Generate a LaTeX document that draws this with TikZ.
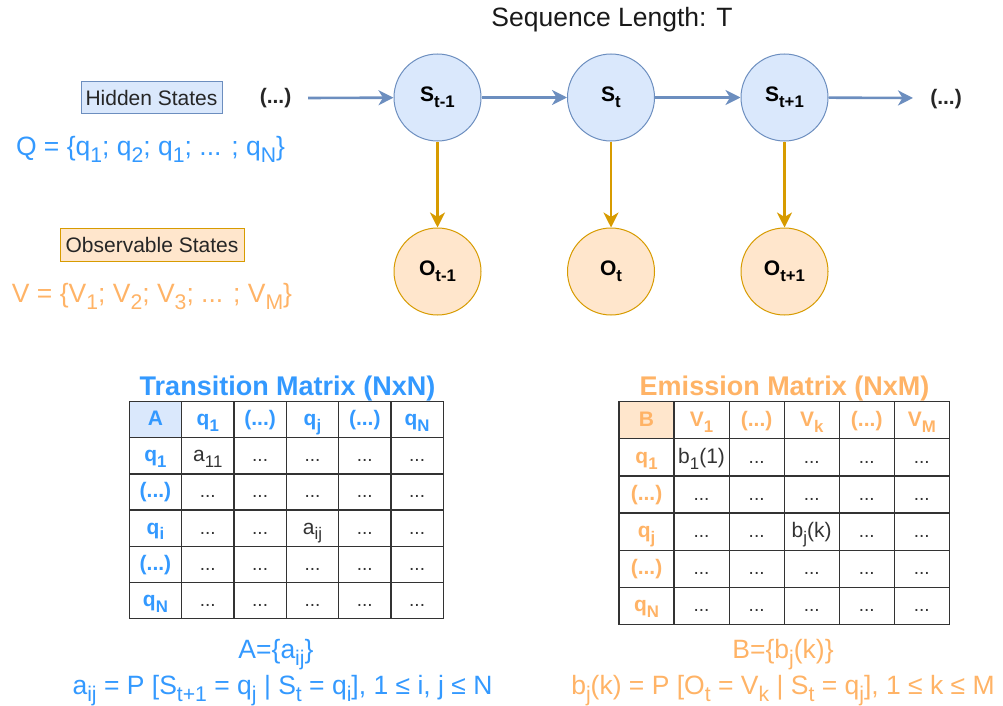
\documentclass[tikz,border=0pt]{standalone}
\usepackage{fontspec}
\setmainfont{Liberation Sans}
\usepackage{graphicx}
\usetikzlibrary{arrows.meta}
\definecolor{hblue}{HTML}{3399FF}
\definecolor{horange}{HTML}{FFB366}
\definecolor{sfill}{HTML}{DAE8FC}
\definecolor{sdraw}{HTML}{6C8EBF}
\definecolor{ofill}{HTML}{FFE6CC}
\definecolor{odraw}{HTML}{D79B00}
\definecolor{gridc}{HTML}{333333}
\newcommand\sbx[1]{\raisebox{-0.28em}{\scalebox{0.8}{#1}}}
\newcommand\fs[1]{\fontsize{#1}{#1}\selectfont}
\newcommand\Acell[4]{\node[cA,#3] (A-#1-#2) at ({129.3+52.33*(#2+0.5)},{401.7+36.1*(#1+0.5)}) {#4};}
\newcommand\Bcell[4]{\node[cB,#3] (B-#1-#2) at ({619+55.05*(#2+0.5)},{401.7+37.1*(#1+0.5)}) {#4};}
\begin{document}
\begin{tikzpicture}[x=1pt,y=-1pt,
  hstate/.style={circle,draw=sdraw,fill=sfill,line width=1pt,minimum size=87pt,inner sep=0pt,font=\fs{21}\bfseries,text=black},
  ostate/.style={circle,draw=odraw,fill=ofill,line width=1pt,minimum size=87pt,inner sep=0pt,font=\fs{21}\bfseries,text=black},
  harrow/.style={draw=sdraw,line width=2.6pt,-{Stealth[length=15pt,width=15pt,inset=4.5pt]}},
  oarrow/.style={draw=odraw,line width=2.6pt,-{Stealth[length=15pt,width=15pt,inset=4.5pt]}},
  tagbox/.style={line width=1pt,inner sep=0pt,font=\fs{21},text=black!85},
  cellbase/.style={draw=gridc,line width=1.2pt,inner sep=0pt,text height=15pt,text depth=3pt},
  cA/.style={cellbase,minimum width=52.33pt,minimum height=36.1pt},
  cB/.style={cellbase,minimum width=55.05pt,minimum height=37.1pt},
  hdA/.style={text=hblue,font=\fs{21}\bfseries},
  hdB/.style={text=horange,font=\fs{21}\bfseries},
  dotc/.style={text=gridc,font=\fs{19}},
  valc/.style={text=gridc,font=\fs{21}},
  ttl/.style={inner sep=0pt,anchor=base,font=\fs{27}\bfseries},
  frm/.style={inner sep=0pt,anchor=base,font=\fs{26.5}}
]
\useasboundingbox (0,0) rectangle (1003,706);

% title
\node[inner sep=0pt,anchor=base,font=\fs{26.5},text=black!90] (title) at (612,27) {Sequence Length: T};

% legend
\node[tagbox,draw=sdraw,fill=sfill,minimum width=141pt,minimum height=32pt] (hid) at (151.5,98) {Hidden States};
\node[inner sep=0pt,anchor=base,font=\fs{26.5},text=hblue] (Q) at (150.5,155) {Q = \{q\sbx{1}; q\sbx{2}; q\sbx{1}; ... ; q\sbx{N}\}};
\node[tagbox,draw=odraw,fill=ofill,minimum width=184pt,minimum height=33pt] (obs) at (152,244.5) {Observable States};
\node[inner sep=0pt,anchor=base,font=\fs{26.5},text=horange] (V) at (152,302) {V = \{V\sbx{1}; V\sbx{2}; V\sbx{3}; ... ; V\sbx{M}\}};

% chain
\node[inner sep=0pt,font=\fs{21}\bfseries,text=black!85] (L) at (275.5,98) {(...)};
\coordinate (cin) at (308,98);
\node[hstate] (S1) at (437.5,97.5) {S\sbx{t-1}};
\node[hstate] (S2) at (611,97.5) {S\sbx{t}};
\node[hstate] (S3) at (784.5,97.5) {S\sbx{t+1}};
\coordinate (cout) at (913,98);
\node[inner sep=0pt,font=\fs{21}\bfseries,text=black!85] (R) at (946,99) {(...)};
\node[ostate] (O1) at (437.5,271.5) {O\sbx{t-1}};
\node[ostate] (O2) at (611,271.5) {O\sbx{t}};
\node[ostate] (O3) at (784.5,271.5) {O\sbx{t+1}};

\draw[harrow] (cin) -- (S1);
\draw[harrow] (S1) -- (S2);
\draw[harrow] (S2) -- (S3);
\draw[harrow] (S3) -- (cout);
\draw[oarrow] (S1) -- (O1);
\draw[oarrow] (S2) -- (O2);
\draw[oarrow] (S3) -- (O3);

% transition matrix
\node[ttl,text=hblue] (Atitle) at (287.5,395) {Transition Matrix (NxN)};
\foreach \r in {1,...,5}{\foreach \c in {1,...,5}{%
  \ifnum\r\c=11 \else\ifnum\r\c=33 \else \Acell{\r}{\c}{dotc}{...}\fi\fi}}
\Acell{1}{1}{valc}{a\sbx{11}}
\Acell{3}{3}{valc}{a\sbx{ij}}
\Acell{0}{0}{hdA,fill=sfill}{A}
\Acell{0}{1}{hdA}{q\sbx{1}}
\Acell{0}{2}{hdA}{(...)}
\Acell{0}{3}{hdA}{q\sbx{j}}
\Acell{0}{4}{hdA}{(...)}
\Acell{0}{5}{hdA}{q\sbx{N}}
\Acell{1}{0}{hdA}{q\sbx{1}}
\Acell{2}{0}{hdA}{(...)}
\Acell{3}{0}{hdA}{q\sbx{i}}
\Acell{4}{0}{hdA}{(...)}
\Acell{5}{0}{hdA}{q\sbx{N}}
\node[frm,text=hblue] (Aset) at (276,658) {A=\{a\sbx{ij}\}};
\node[frm,text=hblue] (Adef) at (282.5,694) {a\sbx{ij} = P [S\sbx{t+1} = q\sbx{j} | S\sbx{t} = q\sbx{i}], 1 ≤ i, j ≤ N};

% emission matrix
\node[ttl,text=horange] (Btitle) at (784.5,395) {Emission Matrix (NxM)};
\foreach \r in {1,...,5}{\foreach \c in {1,...,5}{%
  \ifnum\r\c=11 \else\ifnum\r\c=33 \else \Bcell{\r}{\c}{dotc}{...}\fi\fi}}
\Bcell{1}{1}{valc}{b\sbx{1}(1)}
\Bcell{3}{3}{valc}{b\sbx{j}(k)}
\Bcell{0}{0}{hdB,fill=ofill}{B}
\Bcell{0}{1}{hdB}{V\sbx{1}}
\Bcell{0}{2}{hdB}{(...)}
\Bcell{0}{3}{hdB}{V\sbx{k}}
\Bcell{0}{4}{hdB}{(...)}
\Bcell{0}{5}{hdB}{V\sbx{M}}
\Bcell{1}{0}{hdB}{q\sbx{1}}
\Bcell{2}{0}{hdB}{(...)}
\Bcell{3}{0}{hdB}{q\sbx{j}}
\Bcell{4}{0}{hdB}{(...)}
\Bcell{5}{0}{hdB}{q\sbx{N}}
\node[frm,text=horange] (Bset) at (783,658) {B=\{b\sbx{j}(k)\}};
\node[frm,text=horange] (Bdef) at (783,694) {b\sbx{j}(k) = P [O\sbx{t} = V\sbx{k} | S\sbx{t} = q\sbx{j}], 1 ≤ k ≤ M};
\end{tikzpicture}
\end{document}
